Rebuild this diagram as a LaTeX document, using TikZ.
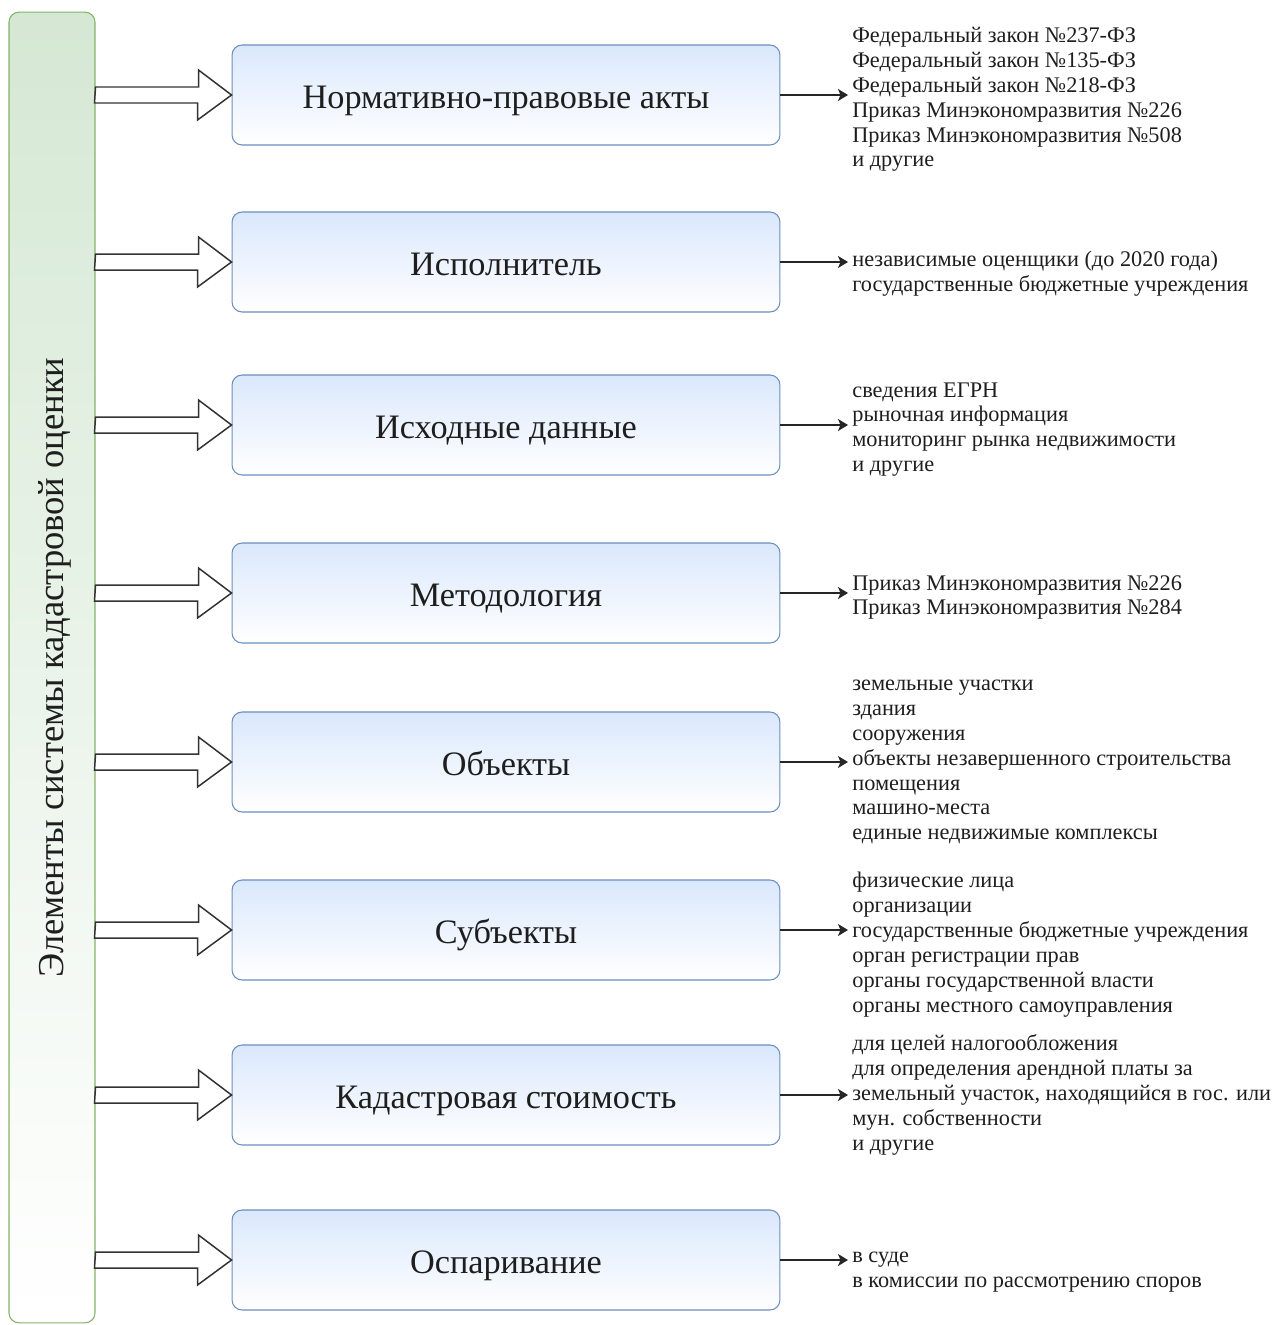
\documentclass[tikz,border=0pt]{standalone}
\usepackage{fontspec}
\setmainfont{Liberation Serif}
\usetikzlibrary{arrows.meta}
\definecolor{barline}{HTML}{82B366}
\definecolor{barfill}{HTML}{D5E8D4}
\definecolor{boxline}{HTML}{6C8EBF}
\definecolor{boxfill}{HTML}{DAE8FC}
\definecolor{txt}{HTML}{1E1E1E}
\tikzset{
	elembox/.style={draw=boxline, line width=0.6pt, rounded corners=0.2cm, top color=boxfill, bottom color=white,
		minimum width=10.96cm, minimum height=2cm, text=txt, text height=19.6pt, text depth=4pt,
		font=\fontsize{19.5pt}{23pt}\selectfont},
	itemlist/.style={anchor=west, align=left, inner sep=0pt, text=txt, font=\fontsize{12.7pt}{14.17pt}\selectfont},
	hollowarrow/.style={draw=black!80, fill=white, line width=0.85pt, line join=miter},
	listarrow/.style={draw=black!85, line width=0.85pt, shorten >=0.08cm, -{Stealth[length=0.2cm, width=0.24cm, inset=0.05cm]}}
}
\begin{document}
\begin{tikzpicture}[x=0.02cm, y=-0.02cm]
	\useasboundingbox (0,0) rectangle (1272,1325);

	\node[draw=barline, line width=0.6pt, rounded corners=0.2cm, top color=barfill, bottom color=white,
		minimum width=1.72cm, minimum height=26.22cm] (bar) at (52,667.5) {};
	\node[rotate=90, text=txt, font=\fontsize{20.8pt}{25pt}\selectfont] (title) at ([xshift=0.06cm]bar.center) {Элементы системы кадастровой оценки};

	\node[elembox] (b1) at (506,95) {Нормативно-правовые акты};
	\node[elembox] (b2) at (506,262) {Исполнитель};
	\node[elembox] (b3) at (506,425) {Исходные данные};
	\node[elembox] (b4) at (506,593) {Методология};
	\node[elembox] (b5) at (506,762) {Объекты};
	\node[elembox] (b6) at (506,930) {Субъекты};
	\node[elembox] (b7) at (506,1095) {Кадастровая стоимость};
	\node[elembox] (b8) at (506,1260) {Оспаривание};

	\draw[hollowarrow] (bar.east |- b1.west) ++(0,-8) -- ++(103,0) -- ++(0,-17) -- (b1.west) -- ++(-34,25) -- ++(0,-17) -- ++(-103,0) -- cycle;
	\draw[hollowarrow] (bar.east |- b2.west) ++(0,-8) -- ++(103,0) -- ++(0,-17) -- (b2.west) -- ++(-34,25) -- ++(0,-17) -- ++(-103,0) -- cycle;
	\draw[hollowarrow] (bar.east |- b3.west) ++(0,-8) -- ++(103,0) -- ++(0,-17) -- (b3.west) -- ++(-34,25) -- ++(0,-17) -- ++(-103,0) -- cycle;
	\draw[hollowarrow] (bar.east |- b4.west) ++(0,-8) -- ++(103,0) -- ++(0,-17) -- (b4.west) -- ++(-34,25) -- ++(0,-17) -- ++(-103,0) -- cycle;
	\draw[hollowarrow] (bar.east |- b5.west) ++(0,-8) -- ++(103,0) -- ++(0,-17) -- (b5.west) -- ++(-34,25) -- ++(0,-17) -- ++(-103,0) -- cycle;
	\draw[hollowarrow] (bar.east |- b6.west) ++(0,-8) -- ++(103,0) -- ++(0,-17) -- (b6.west) -- ++(-34,25) -- ++(0,-17) -- ++(-103,0) -- cycle;
	\draw[hollowarrow] (bar.east |- b7.west) ++(0,-8) -- ++(103,0) -- ++(0,-17) -- (b7.west) -- ++(-34,25) -- ++(0,-17) -- ++(-103,0) -- cycle;
	\draw[hollowarrow] (bar.east |- b8.west) ++(0,-8) -- ++(103,0) -- ++(0,-17) -- (b8.west) -- ++(-34,25) -- ++(0,-17) -- ++(-103,0) -- cycle;

	\node[itemlist] (l1) at (852,99.5) {Федеральный закон №237-ФЗ\\Федеральный закон №135-ФЗ\\Федеральный закон №218-ФЗ\\Приказ Минэкономразвития №226\\Приказ Минэкономразвития №508\\и другие};
	\node[itemlist] (l2) at (852,273.5) {независимые оценщики (до 2020 года)\\государственные бюджетные учреждения};
	\node[itemlist] (l3) at (852,429.5) {сведения ЕГРН\\рыночная информация\\мониторинг рынка недвижимости\\и другие};
	\node[itemlist] (l4) at (852,597.5) {Приказ Минэкономразвития №226\\Приказ Минэкономразвития №284};
	\node[itemlist] (l5) at (852,762) {земельные участки\\здания\\сооружения\\объекты незавершенного строительства\\помещения\\машино-места\\единые недвижимые комплексы};
	\node[itemlist] (l6) at (852,944.5) {физические лица\\организации\\государственные бюджетные учреждения\\орган регистрации прав\\органы государственной власти\\органы местного самоуправления};
	\node[itemlist] (l7) at (852,1095) {для целей налогообложения\\для определения арендной платы за\\земельный участок, находящийся в гос. или\\мун. собственности\\и другие};
	\node[itemlist] (l8) at (852,1272.5) {в суде\\в комиссии по рассмотрению споров};

	\draw[listarrow] (b1.east) -- (b1.east -| l1.west);
	\draw[listarrow] (b2.east) -- (b2.east -| l2.west);
	\draw[listarrow] (b3.east) -- (b3.east -| l3.west);
	\draw[listarrow] (b4.east) -- (b4.east -| l4.west);
	\draw[listarrow] (b5.east) -- (b5.east -| l5.west);
	\draw[listarrow] (b6.east) -- (b6.east -| l6.west);
	\draw[listarrow] (b7.east) -- (b7.east -| l7.west);
	\draw[listarrow] (b8.east) -- (b8.east -| l8.west);
\end{tikzpicture}
\end{document}
